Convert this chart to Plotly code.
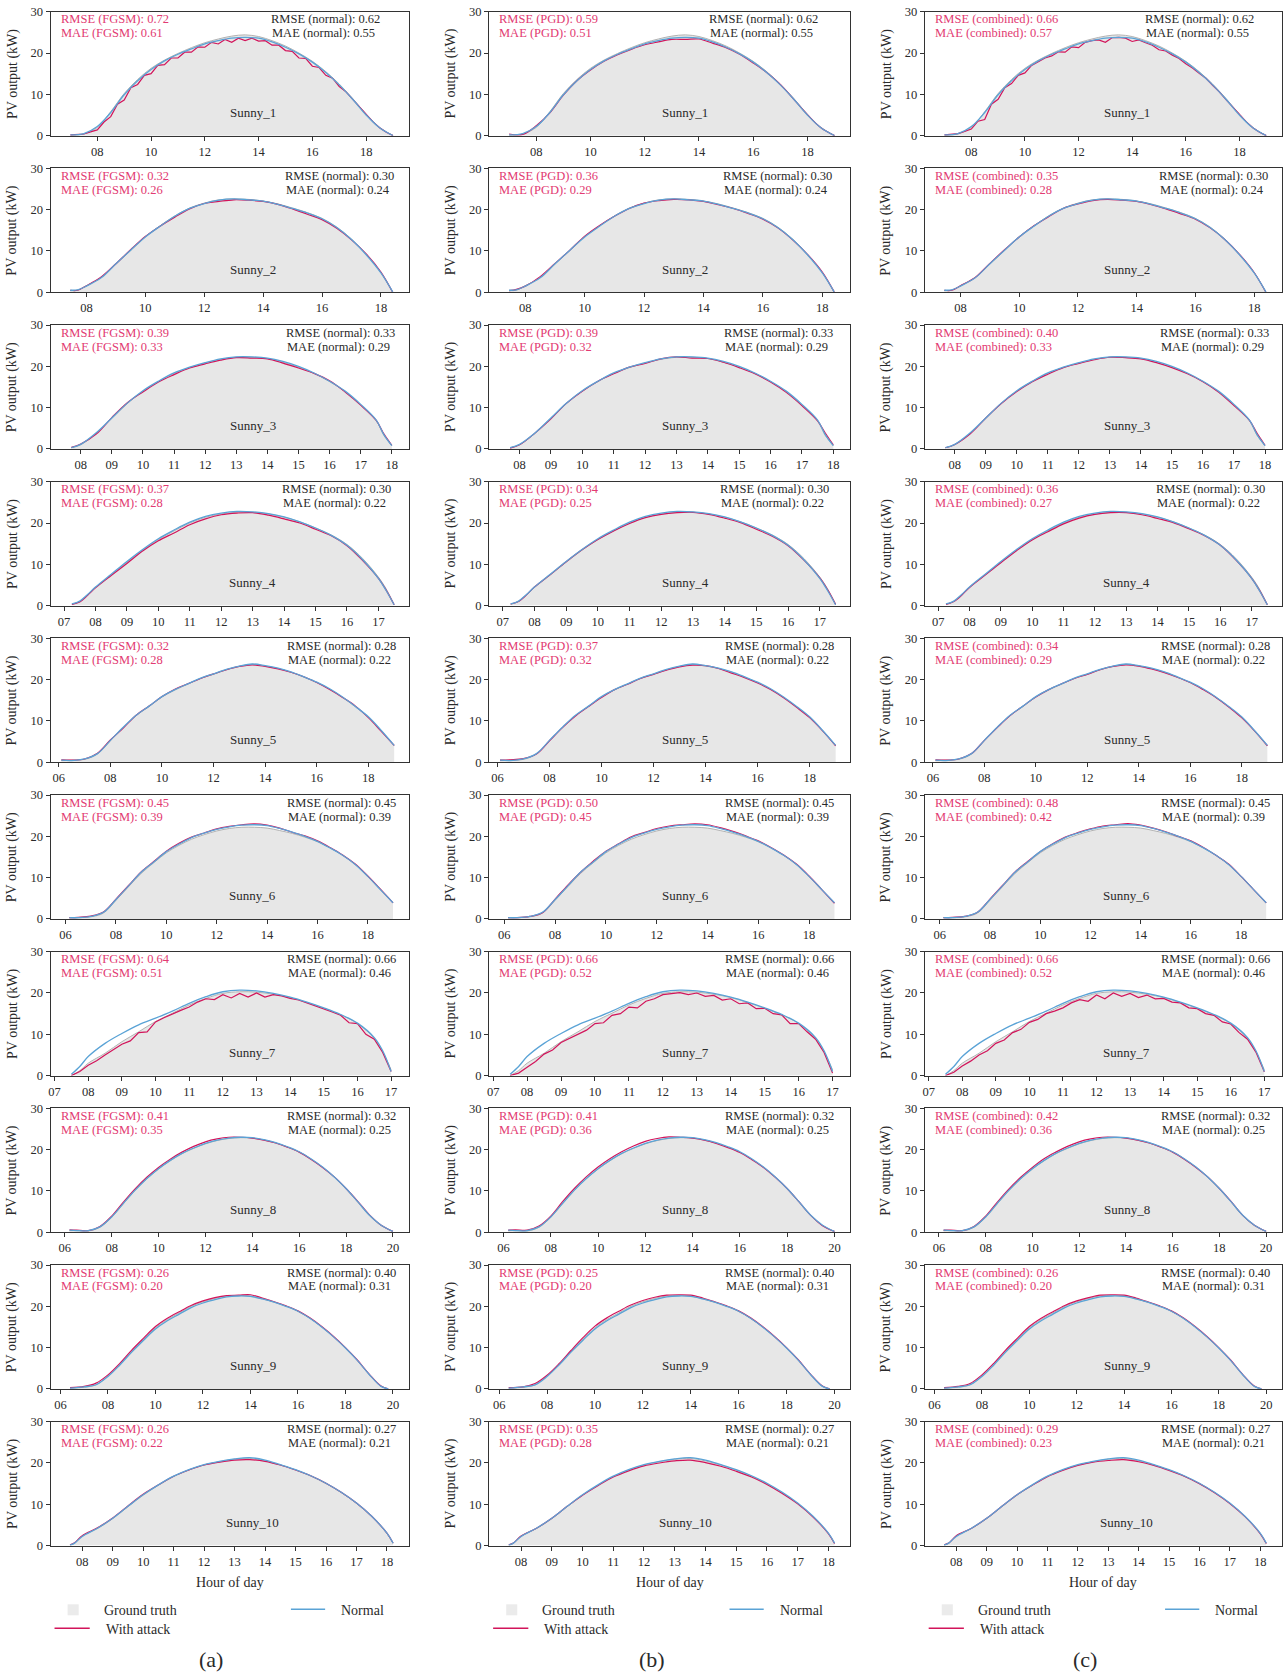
import plotly.graph_objects as go

# ---------------- data ----------------
DAY_NAMES = ["Sunny_1", "Sunny_2", "Sunny_3", "Sunny_4", "Sunny_5",
             "Sunny_6", "Sunny_7", "Sunny_8", "Sunny_9", "Sunny_10"]

H1 = [7.0, 7.5, 8.0, 8.5, 9.0, 9.5, 10.0, 10.5, 11.0, 11.5, 12.0, 12.5, 13.0, 13.5, 14.0, 14.5, 15.0, 15.5, 16.0, 16.5, 17.0, 17.5, 18.0, 18.5, 19.0]
T1 = [0.0, 0.4, 2.0, 5.8, 10.2, 13.6, 16.3, 18.3, 19.9, 21.3, 22.5, 23.4, 24.1, 24.4, 24.0, 23.0, 21.7, 20.0, 18.0, 15.5, 12.5, 9.0, 5.2, 2.0, 0.0]
N1 = [0.2, 0.5, 2.2, 5.6, 9.9, 13.3, 16.0, 18.1, 19.7, 21.0, 22.2, 23.0, 23.6, 23.8, 23.6, 22.7, 21.4, 19.8, 17.8, 15.3, 12.3, 8.8, 5.0, 1.9, 0.0]
P1 = [0.4, 0.3, 2.4, 5.5, 9.8, 13.3, 15.9, 18.0, 19.6, 20.9, 22.0, 22.7, 23.3, 23.3, 23.4, 22.4, 21.3, 19.7, 17.6, 15.3, 12.4, 8.8, 5.1, 1.9, 0.0]
HA1 = [7.0, 7.25, 7.5, 7.75, 8.0, 8.25, 8.5, 8.75, 9.0, 9.25, 9.5, 9.75, 10.0, 10.25, 10.5, 10.75, 11.0, 11.25, 11.5, 11.75,
       12.0, 12.25, 12.5, 12.75, 13.0, 13.25, 13.5, 13.75, 14.0, 14.25, 14.5, 14.75, 15.0, 15.25, 15.5, 15.75, 16.0, 16.25,
       16.5, 16.75, 17.0, 17.25, 17.5, 17.75, 18.0, 18.25, 18.5, 18.75, 19.0]
A1 = [0.2, 0.3, 0.4, 0.9, 1.4, 3.3, 4.6, 7.6, 8.6, 11.6, 12.4, 14.6, 15.0, 17.0, 17.2, 18.8, 18.8, 20.2, 20.2, 21.5,
      21.4, 22.6, 22.2, 23.3, 22.6, 23.6, 23.0, 23.6, 22.9, 23.0, 21.9, 21.9, 20.6, 20.4, 18.8, 18.7, 16.8, 16.5,
      14.6, 13.9, 11.9, 10.6, 8.8, 6.9, 5.0, 3.4, 1.9, 0.8, 0.0]
C1 = [0.2, 0.3, 0.5, 1.0, 1.6, 3.5, 3.9, 7.6, 8.8, 11.6, 12.6, 14.6, 15.2, 17.0, 17.9, 18.8, 19.3, 20.3, 20.2, 21.5,
      21.3, 22.6, 23.0, 23.2, 22.6, 23.7, 23.8, 23.6, 22.8, 23.2, 22.5, 21.9, 20.8, 20.5, 19.5, 18.7, 17.4, 16.4,
      15.1, 13.9, 12.2, 10.6, 8.7, 6.9, 5.0, 3.4, 1.9, 0.8, 0.0]

H2 = [7.45, 7.7, 8.0, 8.5, 9.0, 9.5, 10.0, 10.5, 11.0, 11.5, 12.0, 12.5, 13.0, 13.5, 14.0, 14.5, 15.0, 15.5, 16.0, 16.5, 17.0, 17.5, 18.0, 18.4]
T2 = [0.4, 0.5, 1.6, 3.6, 6.8, 10.1, 13.5, 16.1, 18.5, 20.4, 21.6, 22.4, 22.6, 22.5, 22.1, 21.4, 20.4, 19.3, 17.9, 15.8, 12.9, 9.2, 4.8, 0.0]
N2 = [0.5, 0.6, 1.5, 3.5, 6.9, 10.2, 13.4, 16.0, 18.4, 20.3, 21.5, 22.3, 22.6, 22.4, 22.1, 21.3, 20.3, 19.2, 17.8, 15.7, 12.8, 9.1, 4.7, 0.1]
A2 = [0.5, 0.5, 1.6, 3.7, 6.9, 10.3, 13.5, 16.0, 18.2, 20.2, 21.5, 22.0, 22.4, 22.3, 22.0, 21.3, 20.2, 18.9, 17.6, 15.5, 12.7, 9.3, 4.9, 0.0]
P2 = [0.4, 0.7, 1.5, 3.8, 7.0, 10.2, 13.6, 16.2, 18.4, 20.3, 21.6, 22.2, 22.5, 22.4, 22.0, 21.2, 20.3, 19.1, 17.7, 15.6, 12.7, 9.2, 4.9, 0.1]
C2 = [0.5, 0.5, 1.6, 3.6, 7.0, 10.3, 13.4, 16.1, 18.3, 20.3, 21.4, 22.2, 22.5, 22.3, 22.0, 21.2, 20.2, 19.0, 17.7, 15.6, 12.8, 9.2, 4.8, 0.0]

H3 = [7.7, 8.0, 8.5, 9.0, 9.5, 10.0, 10.5, 11.0, 11.5, 12.0, 12.5, 13.0, 13.5, 14.0, 14.5, 15.0, 15.5, 16.0, 16.5, 17.0, 17.5, 17.75, 18.0]
T3 = [0.3, 1.0, 3.8, 7.4, 11.0, 14.0, 16.3, 18.3, 19.7, 20.8, 21.7, 22.2, 22.2, 21.9, 21.0, 19.8, 18.3, 16.3, 13.9, 10.6, 6.8, 3.2, 0.8]
N3 = [0.3, 1.1, 3.9, 7.5, 11.1, 14.1, 16.4, 18.4, 19.8, 20.9, 21.8, 22.3, 22.3, 22.0, 21.2, 20.0, 18.4, 16.4, 14.0, 10.8, 7.0, 3.4, 0.8]
A3 = [0.4, 1.2, 3.6, 7.6, 11.2, 13.8, 16.2, 18.0, 19.6, 20.6, 21.5, 22.1, 22.0, 21.8, 20.8, 19.6, 18.3, 16.5, 13.8, 10.6, 6.9, 3.6, 0.9]
P3 = [0.2, 1.0, 3.9, 7.3, 11.1, 14.0, 16.4, 18.2, 19.8, 20.7, 21.8, 22.3, 22.0, 21.9, 21.0, 19.7, 18.2, 16.2, 13.7, 10.5, 6.8, 3.8, 1.0]
C3 = [0.3, 1.1, 3.7, 7.5, 11.0, 13.9, 16.3, 18.1, 19.7, 20.7, 21.6, 22.2, 22.1, 21.8, 20.9, 19.7, 18.2, 16.3, 13.8, 10.5, 6.9, 3.7, 0.9]

H4 = [7.25, 7.5, 7.75, 8.0, 8.5, 9.0, 9.5, 10.0, 10.5, 11.0, 11.5, 12.0, 12.5, 13.0, 13.5, 14.0, 14.5, 15.0, 15.5, 16.0, 16.5, 17.0, 17.25, 17.5]
T4 = [0.3, 1.0, 2.6, 4.4, 7.4, 10.5, 13.4, 16.0, 18.1, 20.0, 21.4, 22.2, 22.6, 22.6, 22.2, 21.4, 20.3, 18.8, 17.1, 14.8, 11.4, 6.9, 4.0, 0.2]
N4 = [0.4, 1.1, 2.7, 4.5, 7.6, 10.7, 13.6, 16.2, 18.3, 20.2, 21.6, 22.4, 22.8, 22.7, 22.3, 21.5, 20.3, 18.8, 17.0, 14.6, 11.1, 6.6, 3.6, 0.2]
A4 = [0.3, 0.9, 2.5, 4.3, 7.3, 10.2, 13.2, 15.7, 17.6, 19.6, 21.0, 22.0, 22.4, 22.5, 21.9, 21.0, 20.0, 18.5, 16.9, 14.5, 10.9, 6.6, 3.7, 0.2]
P4 = [0.4, 1.0, 2.6, 4.5, 7.5, 10.6, 13.5, 16.0, 18.1, 19.9, 21.3, 22.1, 22.5, 22.6, 22.1, 21.2, 20.1, 18.5, 16.8, 14.5, 11.0, 6.7, 3.8, 0.3]
C4 = [0.3, 1.0, 2.5, 4.4, 7.4, 10.4, 13.3, 15.9, 17.9, 19.8, 21.2, 22.1, 22.5, 22.5, 22.0, 21.1, 20.1, 18.6, 16.9, 14.6, 11.0, 6.6, 3.7, 0.2]

H5 = [6.1, 6.5, 7.0, 7.5, 8.0, 8.5, 9.0, 9.5, 10.0, 10.5, 11.0, 11.5, 12.0, 12.5, 13.0, 13.5, 14.0, 14.5, 15.0, 15.5, 16.0, 16.5, 17.0, 17.5, 18.0, 18.5, 19.0]
T5 = [0.5, 0.5, 0.7, 2.0, 5.2, 8.4, 11.3, 13.5, 15.8, 17.5, 18.9, 20.3, 21.3, 22.4, 23.2, 23.7, 23.3, 22.7, 21.8, 20.6, 19.3, 17.7, 15.7, 13.4, 10.9, 7.6, 4.0]
N5 = [0.5, 0.4, 0.8, 2.1, 5.3, 8.5, 11.4, 13.6, 15.9, 17.6, 19.0, 20.4, 21.4, 22.5, 23.3, 23.8, 23.4, 22.8, 21.9, 20.7, 19.4, 17.8, 15.8, 13.5, 11.0, 7.7, 4.1]
A5 = [0.6, 0.5, 0.8, 2.2, 5.4, 8.3, 11.4, 13.6, 15.9, 17.7, 19.0, 20.3, 21.4, 22.4, 23.2, 23.6, 23.2, 22.6, 21.8, 20.7, 19.3, 17.6, 15.7, 13.6, 10.8, 7.5, 4.1]
P5 = [0.5, 0.6, 0.9, 2.0, 5.2, 8.4, 11.2, 13.5, 15.7, 17.6, 18.9, 20.3, 21.3, 22.3, 23.1, 23.5, 23.4, 22.7, 21.6, 20.5, 19.2, 17.6, 15.6, 13.3, 10.8, 7.6, 4.0]
C5 = [0.6, 0.5, 0.8, 2.1, 5.3, 8.4, 11.3, 13.6, 15.8, 17.6, 19.0, 20.3, 21.3, 22.4, 23.2, 23.6, 23.3, 22.6, 21.7, 20.6, 19.3, 17.6, 15.7, 13.4, 10.8, 7.6, 4.0]

H6 = [6.15, 6.5, 7.0, 7.5, 8.0, 8.5, 9.0, 9.5, 10.0, 10.5, 11.0, 11.5, 12.0, 12.5, 13.0, 13.5, 14.0, 14.5, 15.0, 15.5, 16.0, 16.5, 17.0, 17.5, 18.0, 18.5, 19.0]
T6 = [0.3, 0.3, 0.5, 1.4, 4.5, 7.8, 11.0, 13.6, 16.0, 17.8, 19.3, 20.4, 21.3, 21.9, 22.2, 22.2, 22.0, 21.4, 20.7, 19.8, 18.7, 17.2, 15.4, 13.2, 10.3, 7.1, 3.9]
N6 = [0.3, 0.3, 0.6, 1.6, 4.7, 8.0, 11.3, 13.8, 16.3, 18.1, 19.7, 20.8, 21.7, 22.3, 22.7, 22.8, 22.6, 21.9, 21.0, 20.0, 18.8, 17.2, 15.4, 13.2, 10.3, 7.1, 3.9]
A6 = [0.3, 0.4, 0.7, 1.7, 4.8, 8.1, 11.4, 13.9, 16.4, 18.3, 19.8, 20.8, 21.8, 22.4, 22.8, 23.0, 22.7, 22.0, 21.0, 20.1, 18.9, 17.3, 15.5, 13.3, 10.4, 7.2, 3.9]
P6 = [0.3, 0.3, 0.6, 1.5, 4.8, 8.2, 11.3, 14.0, 16.4, 18.2, 19.9, 20.9, 21.9, 22.5, 22.8, 23.0, 22.8, 22.1, 21.2, 20.1, 18.9, 17.3, 15.5, 13.3, 10.4, 7.1, 3.8]
C6 = [0.3, 0.4, 0.6, 1.6, 4.8, 8.1, 11.4, 13.9, 16.3, 18.2, 19.8, 20.9, 21.8, 22.5, 22.8, 23.1, 22.7, 22.0, 21.1, 20.0, 18.9, 17.3, 15.4, 13.3, 10.3, 7.1, 3.9]

H7 = [7.5, 7.75, 8.0, 8.5, 9.0, 9.5, 10.0, 10.5, 11.0, 11.5, 12.0, 12.5, 13.0, 13.5, 14.0, 14.5, 15.0, 15.5, 16.0, 16.5, 16.75, 17.0]
T7 = [0.0, 1.2, 3.0, 5.4, 8.2, 10.6, 13.1, 15.1, 17.1, 18.7, 19.9, 20.3, 20.2, 19.7, 18.9, 17.7, 16.3, 14.7, 12.6, 9.0, 5.8, 1.4]
N7 = [0.3, 2.2, 4.6, 7.8, 10.2, 12.3, 13.9, 15.6, 17.5, 19.1, 20.3, 20.7, 20.5, 19.9, 19.0, 17.8, 16.4, 14.8, 12.7, 9.2, 6.0, 1.0]
HA7 = [7.5, 7.75, 8.0, 8.25, 8.5, 8.75, 9.0, 9.25, 9.5, 9.75, 10.0, 10.25, 10.5, 10.75, 11.0, 11.25, 11.5, 11.75, 12.0, 12.25,
       12.5, 12.75, 13.0, 13.25, 13.5, 13.75, 14.0, 14.25, 14.5, 14.75, 15.0, 15.25, 15.5, 15.75, 16.0, 16.25, 16.5, 16.75, 17.0]
A7 = [0.0, 1.0, 2.5, 3.6, 5.0, 6.2, 7.6, 8.4, 10.4, 10.6, 13.0, 14.0, 15.0, 15.8, 16.6, 17.8, 18.6, 18.4, 19.6, 18.8,
      19.9, 19.0, 20.0, 19.0, 19.6, 19.3, 18.7, 18.3, 17.6, 16.9, 16.1, 15.4, 14.6, 12.8, 12.6, 10.0, 8.8, 5.6, 1.0]
P7 = [0.0, 0.6, 2.0, 3.4, 5.2, 6.2, 8.0, 9.0, 10.2, 11.0, 12.6, 12.8, 14.6, 15.0, 16.6, 16.4, 18.0, 18.6, 19.6, 19.9,
      20.1, 19.6, 20.0, 19.2, 19.4, 18.3, 18.6, 17.4, 17.6, 16.2, 16.3, 15.0, 14.7, 12.6, 12.6, 10.6, 8.8, 5.6, 0.6]
C7 = [0.0, 0.8, 2.3, 3.5, 5.0, 6.0, 7.8, 8.6, 10.4, 11.2, 12.9, 13.6, 15.0, 15.6, 16.4, 17.6, 18.4, 18.0, 19.5, 18.6,
      20.0, 19.2, 19.9, 18.9, 19.5, 18.6, 18.7, 17.8, 17.6, 16.4, 16.2, 15.0, 14.6, 13.0, 12.5, 10.4, 8.8, 5.7, 0.9]

H8 = [6.2, 6.5, 7.0, 7.5, 8.0, 8.5, 9.0, 9.5, 10.0, 10.5, 11.0, 11.5, 12.0, 12.5, 13.0, 13.5, 14.0, 14.5, 15.0, 15.5, 16.0, 16.5, 17.0, 17.5, 18.0, 18.5, 19.0, 19.5, 20.0]
T8 = [0.4, 0.4, 0.3, 1.2, 3.6, 6.9, 10.1, 12.9, 15.3, 17.3, 19.0, 20.3, 21.4, 22.2, 22.7, 22.9, 22.8, 22.3, 21.6, 20.6, 19.4, 17.7, 15.7, 13.3, 10.5, 7.3, 4.0, 1.6, 0.2]
N8 = [0.5, 0.4, 0.4, 1.3, 3.7, 7.0, 10.2, 13.0, 15.4, 17.4, 19.1, 20.4, 21.5, 22.3, 22.8, 23.0, 22.9, 22.4, 21.7, 20.7, 19.5, 17.8, 15.8, 13.4, 10.6, 7.4, 4.1, 1.7, 0.2]
A8 = [0.6, 0.5, 0.4, 1.4, 3.9, 7.3, 10.5, 13.3, 15.7, 17.7, 19.4, 20.8, 21.9, 22.6, 23.0, 23.0, 22.8, 22.3, 21.6, 20.6, 19.4, 17.7, 15.7, 13.4, 10.6, 7.5, 4.2, 1.7, 0.2]
P8 = [0.5, 0.6, 0.5, 1.5, 3.9, 7.4, 10.6, 13.4, 15.8, 17.8, 19.5, 20.9, 22.0, 22.7, 23.1, 23.0, 22.8, 22.3, 21.5, 20.5, 19.3, 17.6, 15.7, 13.3, 10.6, 7.4, 4.1, 1.6, 0.2]
C8 = [0.5, 0.5, 0.4, 1.4, 3.9, 7.3, 10.5, 13.3, 15.7, 17.8, 19.4, 20.8, 21.9, 22.6, 23.0, 23.0, 22.8, 22.3, 21.6, 20.6, 19.4, 17.7, 15.7, 13.4, 10.6, 7.5, 4.1, 1.7, 0.2]

H9 = [6.4, 7.0, 7.5, 8.0, 8.5, 9.0, 9.5, 10.0, 10.5, 11.0, 11.5, 12.0, 12.5, 13.0, 13.5, 14.0, 14.5, 15.0, 15.5, 16.0, 16.5, 17.0, 17.5, 18.0, 18.5, 19.0, 19.5, 19.8]
T9 = [0.2, 0.4, 1.0, 3.1, 5.9, 9.1, 12.0, 14.8, 16.8, 18.4, 20.0, 21.1, 21.9, 22.5, 22.6, 22.5, 21.8, 21.0, 20.0, 18.8, 17.1, 15.0, 12.6, 9.9, 6.9, 3.5, 0.6, 0.0]
N9 = [0.2, 0.5, 1.0, 3.0, 5.8, 8.9, 11.8, 14.5, 16.5, 18.1, 19.7, 20.8, 21.6, 22.3, 22.5, 22.4, 21.8, 21.0, 20.0, 18.8, 17.1, 15.0, 12.6, 9.9, 6.9, 3.5, 0.6, 0.0]
A9 = [0.3, 0.6, 1.4, 3.4, 6.2, 9.4, 12.3, 15.1, 17.1, 18.7, 20.2, 21.3, 22.1, 22.6, 22.7, 22.8, 22.0, 21.1, 20.1, 18.9, 17.2, 15.1, 12.7, 10.0, 7.0, 3.6, 0.7, 0.0]
P9 = [0.3, 0.5, 1.3, 3.3, 6.1, 9.3, 12.4, 15.2, 17.2, 18.8, 20.3, 21.4, 22.2, 22.7, 22.8, 22.7, 22.0, 21.1, 20.1, 18.9, 17.2, 15.1, 12.7, 10.0, 7.0, 3.6, 0.7, 0.0]
C9 = [0.3, 0.6, 1.3, 3.4, 6.2, 9.4, 12.3, 15.1, 17.1, 18.7, 20.2, 21.3, 22.1, 22.7, 22.8, 22.7, 22.0, 21.1, 20.1, 18.9, 17.2, 15.1, 12.7, 10.0, 7.0, 3.6, 0.7, 0.0]

H10 = [7.6, 7.75, 8.0, 8.5, 9.0, 9.5, 10.0, 10.5, 11.0, 11.5, 12.0, 12.5, 13.0, 13.5, 14.0, 14.5, 15.0, 15.5, 16.0, 16.5, 17.0, 17.5, 18.0, 18.2]
T10 = [0.0, 0.5, 2.3, 4.1, 6.5, 9.4, 12.2, 14.6, 16.7, 18.3, 19.5, 20.3, 20.9, 21.1, 20.5, 19.5, 18.3, 16.8, 15.0, 12.8, 10.2, 7.0, 2.9, 0.5]
N10 = [0.1, 0.6, 2.2, 4.2, 6.6, 9.5, 12.3, 14.7, 16.8, 18.4, 19.6, 20.4, 21.0, 21.3, 20.7, 19.6, 18.4, 16.9, 15.1, 12.9, 10.3, 7.1, 3.0, 0.6]
A10 = [0.2, 0.7, 2.4, 4.3, 6.7, 9.6, 12.4, 14.7, 16.8, 18.3, 19.5, 20.2, 20.7, 20.8, 20.4, 19.5, 18.3, 16.9, 15.1, 12.9, 10.3, 7.1, 3.0, 0.6]
P10 = [0.2, 0.6, 2.3, 4.2, 6.6, 9.5, 12.2, 14.5, 16.6, 18.1, 19.3, 20.0, 20.5, 20.7, 20.1, 19.2, 18.0, 16.6, 14.8, 12.6, 10.1, 6.9, 2.9, 0.5]
C10 = [0.2, 0.6, 2.4, 4.2, 6.6, 9.5, 12.3, 14.6, 16.7, 18.2, 19.4, 20.2, 20.6, 20.8, 20.3, 19.4, 18.2, 16.8, 15.0, 12.8, 10.2, 7.0, 2.9, 0.5]

HOURS = [H1, H2, H3, H4, H5, H6, H7, H8, H9, H10]
TRUTH = [T1, T2, T3, T4, T5, T6, T7, T8, T9, T10]
NORMAL = [N1, N2, N3, N4, N5, N6, N7, N8, N9, N10]
FGSM = [A1, A2, A3, A4, A5, A6, A7, A8, A9, A10]
FGSM_HOURS = [HA1, H2, H3, H4, H5, H6, HA7, H8, H9, H10]
PGD = [P1, P2, P3, P4, P5, P6, P7, P8, P9, P10]
PGD_HOURS = [H1, H2, H3, H4, H5, H6, HA7, H8, H9, H10]
COMBINED = [C1, C2, C3, C4, C5, C6, C7, C8, C9, C10]
COMBINED_HOURS = [HA1, H2, H3, H4, H5, H6, HA7, H8, H9, H10]

ATTACK_NAMES = ["FGSM", "PGD", "combined"]
RMSE_ATTACK = [
    [0.72, 0.32, 0.39, 0.37, 0.32, 0.45, 0.64, 0.41, 0.26, 0.26],
    [0.59, 0.36, 0.39, 0.34, 0.37, 0.50, 0.66, 0.41, 0.25, 0.35],
    [0.66, 0.35, 0.40, 0.36, 0.34, 0.48, 0.66, 0.42, 0.26, 0.29],
]
MAE_ATTACK = [
    [0.61, 0.26, 0.33, 0.28, 0.28, 0.39, 0.51, 0.35, 0.20, 0.22],
    [0.51, 0.29, 0.32, 0.25, 0.32, 0.45, 0.52, 0.36, 0.20, 0.28],
    [0.57, 0.28, 0.33, 0.27, 0.29, 0.42, 0.52, 0.36, 0.20, 0.23],
]
RMSE_NORMAL = [0.62, 0.30, 0.33, 0.30, 0.28, 0.45, 0.66, 0.32, 0.40, 0.27]
MAE_NORMAL = [0.55, 0.24, 0.29, 0.22, 0.22, 0.39, 0.46, 0.25, 0.31, 0.21]

TICK_VALS = [
    [8, 10, 12, 14, 16, 18],
    [8, 10, 12, 14, 16, 18],
    [8, 9, 10, 11, 12, 13, 14, 15, 16, 17, 18],
    [7, 8, 9, 10, 11, 12, 13, 14, 15, 16, 17],
    [6, 8, 10, 12, 14, 16, 18],
    [6, 8, 10, 12, 14, 16, 18],
    [7, 8, 9, 10, 11, 12, 13, 14, 15, 16, 17],
    [6, 8, 10, 12, 14, 16, 18, 20],
    [6, 8, 10, 12, 14, 16, 18, 20],
    [8, 9, 10, 11, 12, 13, 14, 15, 16, 17, 18],
]
TICK_TEXT = [["%02d" % v for v in tv] for tv in TICK_VALS]
Y_TICKS = [0, 10, 20, 30]
PANEL_LABELS = ["(a)", "(b)", "(c)"]

# ---------------- layout / style ----------------
X_RANGES = [[6.26, 19.58], [6.78, 18.94], [7.03, 18.54], [6.57, 17.96], [5.68, 19.56],
            [5.40, 19.62], [6.88, 17.52], [5.39, 20.67], [5.58, 20.66], [6.96, 18.71]]
Y_RANGE = [0, 30]

W, H = 1284, 1678
COL_PX = [(53, 409), (489, 848), (922, 1277)]
ROW_TOP0, ROW_PITCH, ROW_H = 11, 156.8, 124
RIGHT_TEXT_OFF = [217, 231, 232, 228, 233, 233, 233, 233, 233, 233]
LABEL_FRAC = [0.565, 0.543, 0.566]
SPREAD = 1.0075  # small spread about the centre to match the rendered framing

FONT = "Liberation Serif"
GRAY_FILL = "#e7e7e7"
GRAY_EDGE = "#b2b2b2"
BLUE = "#5aa3d6"
RED = "#d2145a"
RED_TEXT = "#e23a72"
TEXT = "#2a2a2a"
AXIS = "#333333"


def px(x):
    return (W / 2 + (x - W / 2) * SPREAD) / W


def py(y):
    return 1 - (H / 2 + (y - H / 2) * SPREAD) / H


fig = go.Figure()
layout = dict(width=W, height=H, margin=dict(l=0, r=0, t=0, b=0),
              paper_bgcolor="white", plot_bgcolor="white", showlegend=False,
              font=dict(family=FONT, color=TEXT, size=13))
annotations = []
shapes = []

ATTACKS = [FGSM, PGD, COMBINED]
ATTACK_HOURS = [FGSM_HOURS, PGD_HOURS, COMBINED_HOURS]
FINE_GRIDS = (HA1, HA7)

for c in range(3):
    x0, x1 = COL_PX[c]
    for r in range(10):
        n = c * 10 + r + 1
        xa = "x" if n == 1 else "x%d" % n
        ya = "y" if n == 1 else "y%d" % n
        top = ROW_TOP0 + r * ROW_PITCH
        bot = top + ROW_H

        fig.add_trace(go.Scatter(x=HOURS[r], y=TRUTH[r], xaxis=xa, yaxis=ya, mode="lines",
                                 fill="tozeroy", fillcolor=GRAY_FILL,
                                 line=dict(color=GRAY_EDGE, width=1, shape="spline"),
                                 hoverinfo="skip"))
        ah = ATTACK_HOURS[c][r]
        fine = any(ah is g for g in FINE_GRIDS)
        fig.add_trace(go.Scatter(x=ah, y=ATTACKS[c][r], xaxis=xa, yaxis=ya, mode="lines",
                                 line=dict(color=RED, width=1.2,
                                           shape="linear" if fine else "spline"),
                                 hoverinfo="skip"))
        fig.add_trace(go.Scatter(x=HOURS[r], y=NORMAL[r], xaxis=xa, yaxis=ya, mode="lines",
                                 line=dict(color=BLUE, width=1.3, shape="spline"),
                                 hoverinfo="skip"))

        axis_common = dict(showline=True, mirror=True, linecolor=AXIS, linewidth=1,
                           ticks="outside", ticklen=4, tickwidth=1, tickcolor=AXIS,
                           showgrid=False, zeroline=False,
                           tickfont=dict(family=FONT, size=12.5, color=TEXT))
        layout["xaxis" if n == 1 else "xaxis%d" % n] = dict(
            domain=[px(x0), px(x1)], range=X_RANGES[r], anchor=ya,
            tickmode="array", tickvals=TICK_VALS[r], ticktext=TICK_TEXT[r], **axis_common)
        layout["yaxis" if n == 1 else "yaxis%d" % n] = dict(
            domain=[py(bot), py(top)], range=Y_RANGE, anchor=xa,
            tickmode="array", tickvals=Y_TICKS, **axis_common)

        # metric texts
        annotations.append(dict(xref="paper", yref="paper", x=px(x0 + 8), y=py(top + 7.5),
                                xanchor="left", yanchor="middle", showarrow=False,
                                text="RMSE (%s): %.2f" % (ATTACK_NAMES[c], RMSE_ATTACK[c][r]),
                                font=dict(family=FONT, size=12.5, color=RED_TEXT)))
        annotations.append(dict(xref="paper", yref="paper", x=px(x0 + 8), y=py(top + 21.5),
                                xanchor="left", yanchor="middle", showarrow=False,
                                text="MAE (%s): %.2f" % (ATTACK_NAMES[c], MAE_ATTACK[c][r]),
                                font=dict(family=FONT, size=12.5, color=RED_TEXT)))
        annotations.append(dict(xref="paper", yref="paper", x=px(x0 + RIGHT_TEXT_OFF[r]), y=py(top + 7.5),
                                xanchor="left", yanchor="middle", showarrow=False,
                                text="RMSE (normal): %.2f" % RMSE_NORMAL[r],
                                font=dict(family=FONT, size=12.5, color=TEXT)))
        annotations.append(dict(xref="paper", yref="paper", x=px(x0 + RIGHT_TEXT_OFF[r] + 1), y=py(top + 21.5),
                                xanchor="left", yanchor="middle", showarrow=False,
                                text="MAE (normal): %.2f" % MAE_NORMAL[r],
                                font=dict(family=FONT, size=12.5, color=TEXT)))
        # day label
        annotations.append(dict(xref="paper", yref="paper",
                                x=px(x0 + LABEL_FRAC[c] * (x1 - x0)), y=py(bot - 23),
                                xanchor="center", yanchor="middle", showarrow=False,
                                text=DAY_NAMES[r], font=dict(family=FONT, size=13, color=TEXT)))
        # y-axis title
        annotations.append(dict(xref="paper", yref="paper", x=px(x0 - 38), y=py((top + bot) / 2),
                                xanchor="center", yanchor="middle", showarrow=False, textangle=-90,
                                text="PV output (kW)", font=dict(family=FONT, size=14, color=TEXT)))

    # x-axis title on bottom row
    annotations.append(dict(xref="paper", yref="paper", x=px((x0 + x1) / 2), y=py(1583),
                            xanchor="center", yanchor="middle", showarrow=False,
                            text="Hour of day", font=dict(family=FONT, size=14, color=TEXT)))
    # legend (drawn)
    shapes.append(dict(type="rect", xref="paper", yref="paper",
                       x0=px(x0 + 17), x1=px(x0 + 28), y0=py(1616), y1=py(1605),
                       fillcolor="#ebebeb", line=dict(width=0)))
    annotations.append(dict(xref="paper", yref="paper", x=px(x0 + 51), y=py(1611),
                            xanchor="left", yanchor="middle", showarrow=False,
                            text="Ground truth", font=dict(family=FONT, size=14, color=TEXT)))
    shapes.append(dict(type="line", xref="paper", yref="paper",
                       x0=px(x0 + 239), x1=px(x0 + 273), y0=py(1610), y1=py(1610),
                       line=dict(color=BLUE, width=1.6)))
    annotations.append(dict(xref="paper", yref="paper", x=px(x0 + 287), y=py(1611),
                            xanchor="left", yanchor="middle", showarrow=False,
                            text="Normal", font=dict(family=FONT, size=14, color=TEXT)))
    shapes.append(dict(type="line", xref="paper", yref="paper",
                       x0=px(x0 + 4), x1=px(x0 + 39), y0=py(1629), y1=py(1629),
                       line=dict(color=RED, width=1.6)))
    annotations.append(dict(xref="paper", yref="paper", x=px(x0 + 53), y=py(1630),
                            xanchor="left", yanchor="middle", showarrow=False,
                            text="With attack", font=dict(family=FONT, size=14, color=TEXT)))
    # panel label
    annotations.append(dict(xref="paper", yref="paper", x=px((x0 + x1) / 2 - 18), y=py(1660),
                            xanchor="center", yanchor="middle", showarrow=False,
                            text=PANEL_LABELS[c], font=dict(family=FONT, size=22, color=TEXT)))

layout["annotations"] = annotations
layout["shapes"] = shapes
fig.update_layout(**layout)
fig.write_html("out.html")
